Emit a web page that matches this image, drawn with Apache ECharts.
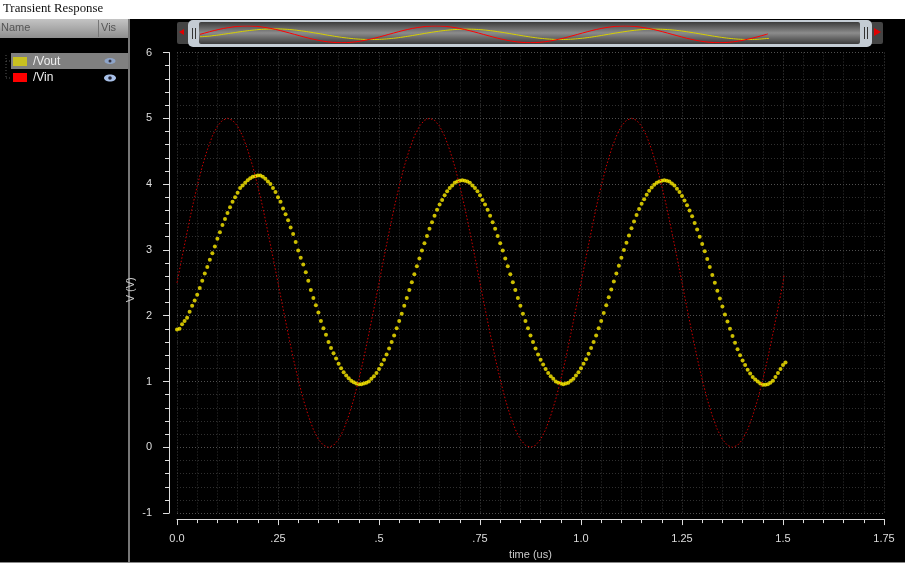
<!DOCTYPE html>
<html>
<head>
<meta charset="utf-8">
<title>Transient Response</title>
<style>
html, body { margin: 0; padding: 0; background: #fff; }
#chart { width: 905px; height: 565px; }
</style>
<script src="https://cdn.jsdelivr.net/npm/echarts@6/dist/echarts.min.js"></script>
</head>
<body>
<div id="chart"></div>
<script>
var xTickLabels = { "0": "0.0", "0.25": ".25", "0.5": ".5", "0.75": ".75", "1": "1.0", "1.25": "1.25", "1.5": "1.5", "1.75": "1.75" };

var voutTime = [
    0, .00625, .0125, .01875, .025, .03125, .0375, .04375, .05, .05625,
    .0625, .06875, .075, .08125, .0875, .09375, .1, .10625, .1125, .11875,
    .125, .13125, .1375, .14375, .15, .15625, .1625, .16875, .175, .18125,
    .1875, .19375, .2, .20625, .2125, .21875, .225, .23125, .2375, .24375,
    .25, .25625, .2625, .26875, .275, .28125, .2875, .29375, .3, .30625,
    .3125, .31875, .325, .33125, .3375, .34375, .35, .35625, .3625, .36875,
    .375, .38125, .3875, .39375, .4, .40625, .4125, .41875, .425, .43125,
    .4375, .44375, .45, .45625, .4625, .46875, .475, .48125, .4875, .49375,
    .5, .50625, .5125, .51875, .525, .53125, .5375, .54375, .55, .55625,
    .5625, .56875, .575, .58125, .5875, .59375, .6, .60625, .6125, .61875,
    .625, .63125, .6375, .64375, .65, .65625, .6625, .66875, .675, .68125,
    .6875, .69375, .7, .70625, .7125, .71875, .725, .73125, .7375, .74375,
    .75, .75625, .7625, .76875, .775, .78125, .7875, .79375, .8, .80625,
    .8125, .81875, .825, .83125, .8375, .84375, .85, .85625, .8625, .86875,
    .875, .88125, .8875, .89375, .9, .90625, .9125, .91875, .925, .93125,
    .9375, .94375, .95, .95625, .9625, .96875, .975, .98125, .9875, .99375,
    1, 1.00625, 1.0125, 1.01875, 1.025, 1.03125, 1.0375, 1.04375, 1.05, 1.05625,
    1.0625, 1.06875, 1.075, 1.08125, 1.0875, 1.09375, 1.1, 1.10625, 1.1125, 1.11875,
    1.125, 1.13125, 1.1375, 1.14375, 1.15, 1.15625, 1.1625, 1.16875, 1.175, 1.18125,
    1.1875, 1.19375, 1.2, 1.20625, 1.2125, 1.21875, 1.225, 1.23125, 1.2375, 1.24375,
    1.25, 1.25625, 1.2625, 1.26875, 1.275, 1.28125, 1.2875, 1.29375, 1.3, 1.30625,
    1.3125, 1.31875, 1.325, 1.33125, 1.3375, 1.34375, 1.35, 1.35625, 1.3625, 1.36875,
    1.375, 1.38125, 1.3875, 1.39375, 1.4, 1.40625, 1.4125, 1.41875, 1.425, 1.43125,
    1.4375, 1.44375, 1.45, 1.45625, 1.4625, 1.46875, 1.475, 1.48125, 1.4875, 1.49375,
    1.5, 1.50625
];

var voutVolts = [
    1.79, 1.80, 1.87, 1.92, 1.97, 2.06, 2.15, 2.23, 2.32, 2.42,
    2.53, 2.64, 2.74, 2.85, 2.95, 3.05, 3.17, 3.27, 3.38, 3.47,
    3.56, 3.65, 3.73, 3.80, 3.87, 3.94, 3.98, 4.02, 4.06, 4.09,
    4.11, 4.12, 4.13, 4.13, 4.11, 4.08, 4.04, 4.00, 3.94, 3.88,
    3.80, 3.73, 3.63, 3.54, 3.45, 3.34, 3.24, 3.12, 2.99, 2.88,
    2.78, 2.66, 2.53, 2.39, 2.27, 2.16, 2.05, 1.92, 1.81, 1.71,
    1.60, 1.51, 1.43, 1.35, 1.27, 1.20, 1.14, 1.09, 1.05, 1.01,
    .99, .97, .96, .96, .97, .98, 1.00, 1.04, 1.08, 1.13,
    1.19, 1.26, 1.33, 1.41, 1.50, 1.60, 1.70, 1.81, 1.92, 2.03,
    2.15, 2.27, 2.39, 2.51, 2.63, 2.75, 2.87, 2.99, 3.10, 3.21,
    3.32, 3.42, 3.52, 3.61, 3.69, 3.76, 3.83, 3.89, 3.94, 3.98,
    4.02, 4.04, 4.05, 4.06, 4.05, 4.04, 4.02, 3.98, 3.94, 3.89,
    3.83, 3.76, 3.69, 3.61, 3.52, 3.42, 3.32, 3.21, 3.10, 2.99,
    2.87, 2.75, 2.63, 2.51, 2.39, 2.27, 2.15, 2.03, 1.92, 1.81,
    1.70, 1.60, 1.50, 1.41, 1.33, 1.26, 1.19, 1.13, 1.08, 1.04,
    1.00, .98, .97, .96, .97, .98, 1.01, 1.04, 1.09, 1.14,
    1.20, 1.27, 1.34, 1.42, 1.51, 1.60, 1.70, 1.81, 1.92, 2.04,
    2.16, 2.28, 2.40, 2.52, 2.64, 2.76, 2.88, 3.00, 3.11, 3.22,
    3.33, 3.43, 3.53, 3.62, 3.70, 3.77, 3.84, 3.90, 3.95, 3.99,
    4.02, 4.04, 4.05, 4.06, 4.05, 4.04, 4.01, 3.98, 3.93, 3.88,
    3.82, 3.75, 3.68, 3.60, 3.51, 3.41, 3.31, 3.20, 3.09, 2.98,
    2.86, 2.74, 2.62, 2.50, 2.38, 2.26, 2.14, 2.02, 1.91, 1.80,
    1.69, 1.59, 1.49, 1.40, 1.32, 1.25, 1.18, 1.12, 1.07, 1.03,
    1.00, .97, .95, .95, .96, .98, 1.01, 1.07, 1.13, 1.19,
    1.25, 1.29
];

var vinTime = [
    0, .0125, .025, .0375, .05, .0625, .075, .0875, .1, .1125,
    .125, .1375, .15, .1625, .175, .1875, .2, .2125, .225, .2375,
    .25, .2625, .275, .2875, .3, .3125, .325, .3375, .35, .3625,
    .375, .3875, .4, .4125, .425, .4375, .45, .4625, .475, .4875,
    .5, .5125, .525, .5375, .55, .5625, .575, .5875, .6, .6125,
    .625, .6375, .65, .6625, .675, .6875, .7, .7125, .725, .7375,
    .75, .7625, .775, .7875, .8, .8125, .825, .8375, .85, .8625,
    .875, .8875, .9, .9125, .925, .9375, .95, .9625, .975, .9875,
    1, 1.0125, 1.025, 1.0375, 1.05, 1.0625, 1.075, 1.0875, 1.1, 1.1125,
    1.125, 1.1375, 1.15, 1.1625, 1.175, 1.1875, 1.2, 1.2125, 1.225, 1.2375,
    1.25, 1.2625, 1.275, 1.2875, 1.3, 1.3125, 1.325, 1.3375, 1.35, 1.3625,
    1.375, 1.3875, 1.4, 1.4125, 1.425, 1.4375, 1.45, 1.4625, 1.475, 1.4875,
    1.5, 1.503
];

var vinVolts = [
    2.5, 2.89, 3.27, 3.64, 3.97, 4.27, 4.52, 4.73, 4.88, 4.97,
    5.0, 4.97, 4.88, 4.73, 4.52, 4.27, 3.97, 3.64, 3.27, 2.89,
    2.5, 2.11, 1.73, 1.36, 1.03, .73, .48, .27, .12, .03,
    0, .03, .12, .27, .48, .73, 1.03, 1.36, 1.73, 2.11,
    2.5, 2.89, 3.27, 3.64, 3.97, 4.27, 4.52, 4.73, 4.88, 4.97,
    5.0, 4.97, 4.88, 4.73, 4.52, 4.27, 3.97, 3.64, 3.27, 2.89,
    2.5, 2.11, 1.73, 1.36, 1.03, .73, .48, .27, .12, .03,
    0, .03, .12, .27, .48, .73, 1.03, 1.36, 1.73, 2.11,
    2.5, 2.89, 3.27, 3.64, 3.97, 4.27, 4.52, 4.73, 4.88, 4.97,
    5.0, 4.97, 4.88, 4.73, 4.52, 4.27, 3.97, 3.64, 3.27, 2.89,
    2.5, 2.11, 1.73, 1.36, 1.03, .73, .48, .27, .12, .03,
    0, .03, .12, .27, .48, .73, 1.03, 1.36, 1.73, 2.11,
    2.5, 2.63
];

function pairs(xs, ys) {
    return ys.map(function(v, i) { return [xs[i], v]; });
}

var uiFont = "'Liberation Sans', sans-serif";

//窗口外框，面板，标题
var panels = [
    { type: 'rect', shape: { x: 0, y: 19, width: 905, height: 543 }, style: { fill: '#000' } },
    { type: 'rect', shape: { x: 0, y: 562, width: 905, height: 1 }, style: { fill: '#888' } },
    { type: 'rect', shape: { x: 128, y: 19, width: 2, height: 543 }, style: { fill: '#777' } },
    { type: 'rect', shape: { x: 0, y: 19, width: 128, height: 19 }, style: {
        fill: new echarts.graphic.LinearGradient(0, 0, 0, 1, [
            { offset: 0, color: '#c4c4c4' }, { offset: 1, color: '#8e8e8e' }
        ]) } },
    { type: 'rect', shape: { x: 98, y: 20, width: 1, height: 17 }, style: { fill: '#777' } },
    { type: 'text', x: 3, y: 2, style: { text: 'Transient Response', fill: '#111', font: "12.8px 'Liberation Serif', serif" } },
    { type: 'text', x: 1, y: 22, style: { text: 'Name', fill: '#555', font: '11px ' + uiFont } },
    { type: 'text', x: 101, y: 22, style: { text: 'Vis', fill: '#555', font: '11px ' + uiFont } },

    { type: 'rect', shape: { x: 11, y: 53, width: 117, height: 16 }, style: { fill: '#808080' } },
    { type: 'line', shape: { x1: 6, y1: 55, x2: 6, y2: 78 }, style: { stroke: '#555', lineDash: [1, 2] } },
    { type: 'line', shape: { x1: 6, y1: 61, x2: 12, y2: 61 }, style: { stroke: '#555', lineDash: [1, 2] } },
    { type: 'line', shape: { x1: 6, y1: 78, x2: 12, y2: 78 }, style: { stroke: '#555', lineDash: [1, 2] } },
    { type: 'rect', shape: { x: 13, y: 57, width: 14, height: 9 }, style: { fill: '#c8c020' } },
    { type: 'rect', shape: { x: 13, y: 73, width: 14, height: 9 }, style: { fill: '#ff0000' } },
    { type: 'text', x: 33, y: 55.5, style: { text: '/Vout', fill: '#eee', font: '12px ' + uiFont } },
    { type: 'text', x: 33, y: 72, style: { text: '/Vin', fill: '#eee', font: '12px ' + uiFont } },
    { type: 'ellipse', shape: { cx: 110, cy: 61, rx: 5.5, ry: 3 }, style: { fill: '#8ea4c8' } },
    { type: 'circle', shape: { cx: 110, cy: 61, r: 1.5 }, style: { fill: '#334' } },
    { type: 'ellipse', shape: { cx: 110, cy: 78, rx: 6, ry: 3.5 }, style: { fill: '#a8c0e8' } },
    { type: 'circle', shape: { cx: 110, cy: 78, r: 1.8 }, style: { fill: '#223' } },

    //顶部缩略条
    { type: 'rect', shape: { x: 177, y: 22, width: 706, height: 22, r: 2 }, style: { fill: '#444' } },
    { type: 'rect', shape: { x: 188, y: 20, width: 684, height: 27, r: 5 }, style: { fill: '#c4ccd4' } },
    { type: 'rect', shape: { x: 199, y: 22, width: 661, height: 22, r: 2 }, style: {
        fill: new echarts.graphic.LinearGradient(0, 0, 0, 1, [
            { offset: 0, color: '#3c3c3c' }, { offset: .5, color: '#8c8c8c' }, { offset: 1, color: '#3c3c3c' }
        ]) } },
    { type: 'rect', shape: { x: 192, y: 28, width: 1, height: 11 }, style: { fill: '#333' } },
    { type: 'rect', shape: { x: 195, y: 28, width: 1, height: 11 }, style: { fill: '#333' } },
    { type: 'rect', shape: { x: 864, y: 27, width: 1, height: 12 }, style: { fill: '#333' } },
    { type: 'rect', shape: { x: 867, y: 27, width: 1, height: 12 }, style: { fill: '#333' } },
    { type: 'polygon', shape: { points: [[179, 32], [184, 29], [184, 35]] }, style: { fill: '#e00000' } },
    { type: 'polygon', shape: { points: [[881, 32], [874, 28], [874, 36]] }, style: { fill: '#e00000' } }
];

var myChart = echarts.init(document.getElementById('chart'), null, { renderer: 'canvas' });

var option = {
    animation: false,
    backgroundColor: '#fff',
    graphic: { elements: panels },
    grid: [
        { left: 177, right: 21, top: 52.5, bottom: 50 },
        //缩略条里的曲线
        { left: 200, width: 661, top: 26, height: 16.7 }
    ],
    xAxis: [{
        type: 'value',
        min: 0,
        max: 1.75,
        interval: .25,
        offset: 6,
        position: 'bottom',
        name: 'time (us)',
        nameLocation: 'middle',
        nameGap: 29,
        nameTextStyle: { color: '#ccc', fontSize: 11, fontFamily: uiFont },
        axisLine: { onZero: false, lineStyle: { color: '#ddd', width: 1 } },
        axisTick: { length: 6, lineStyle: { color: '#ddd' } },
        minorTick: { show: true, splitNumber: 5, length: 4, lineStyle: { color: '#ddd' } },
        axisLabel: {
            margin: 14,
            color: '#ddd',
            fontSize: 11,
            fontFamily: uiFont,
            showMinLabel: true,
            showMaxLabel: true,
            formatter: function(v) { return xTickLabels[String(v)]; }
        },
        splitLine: { show: true, lineStyle: { color: '#444', type: [1, 2], width: 1 } },
        minorSplitLine: { show: true, lineStyle: { color: '#303030', type: [1, 2], width: 1 } }
    }, {
        gridIndex: 1,
        type: 'value',
        min: 0,
        max: 1.75,
        show: false
    }],
    yAxis: [{
        type: 'value',
        min: -1,
        max: 6,
        interval: 1,
        offset: 8,
        name: 'V (V)',
        nameLocation: 'middle',
        nameGap: 33,
        nameMoveOverlap: false,
        nameTextStyle: { color: '#ccc', fontSize: 11, fontFamily: uiFont, padding: [0, 14, 0, 0] },
        axisLine: { show: true, onZero: false, lineStyle: { color: '#ddd', width: 1 } },
        axisTick: { show: true, length: 6, lineStyle: { color: '#ddd' } },
        minorTick: { show: true, splitNumber: 5, length: 4, lineStyle: { color: '#ddd' } },
        axisLabel: { margin: 17, color: '#ddd', fontSize: 11, fontFamily: uiFont },
        splitLine: { show: true, lineStyle: { color: '#505050', type: [1, 2], width: 1 } },
        minorSplitLine: { show: true, lineStyle: { color: '#303030', type: [1, 2], width: 1 } }
    }, {
        gridIndex: 1,
        type: 'value',
        min: 0,
        max: 5,
        show: false
    }],
    series: [{
        name: '/Vin',
        type: 'line',
        data: pairs(vinTime, vinVolts),
        showSymbol: false,
        lineStyle: { color: '#d00000', width: 1, type: [1.5, 2] }
    }, {
        name: '/Vout',
        type: 'scatter',
        data: pairs(voutTime, voutVolts),
        symbol: 'circle',
        symbolSize: 4,
        itemStyle: { color: '#ffee00' }
    }, {
        name: '/Vout',
        type: 'line',
        xAxisIndex: 1,
        yAxisIndex: 1,
        data: pairs(voutTime, voutVolts),
        showSymbol: false,
        lineStyle: { color: '#d8d000', width: 1 }
    }, {
        name: '/Vin',
        type: 'line',
        xAxisIndex: 1,
        yAxisIndex: 1,
        data: pairs(vinTime, vinVolts),
        showSymbol: false,
        lineStyle: { color: '#ff0000', width: 1 }
    }]
};

myChart.setOption(option);
</script>
</body>
</html>
